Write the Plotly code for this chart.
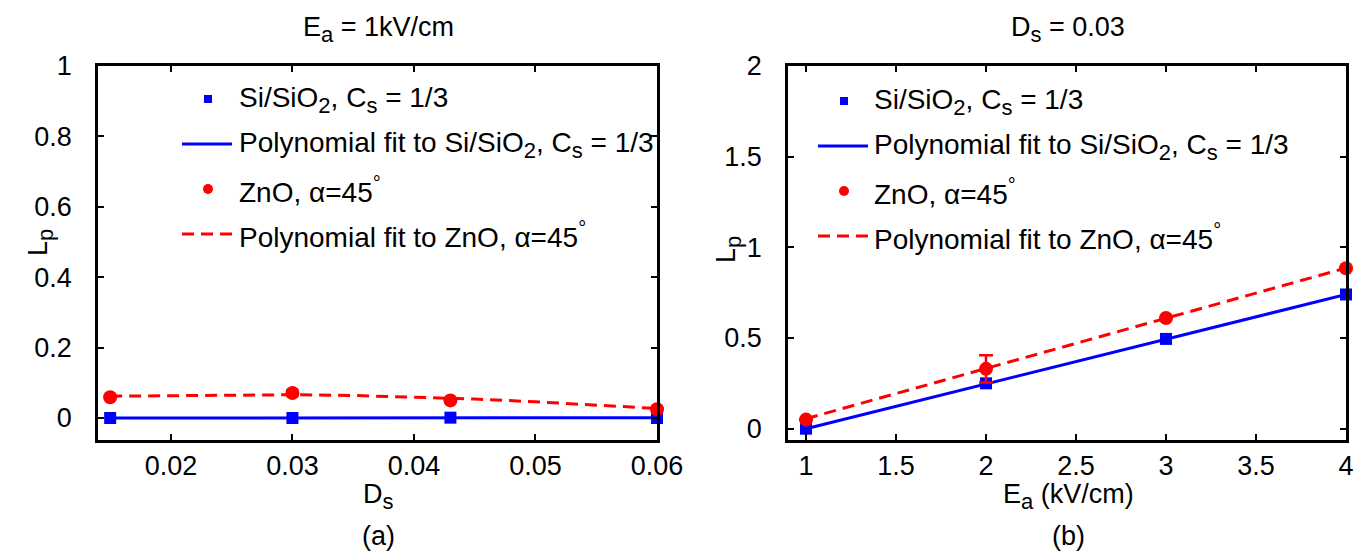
import plotly.graph_objects as go

# page geometry (the html body has an 8 px default margin)
W_PAGE, H_PAGE = 1363, 552
OFF = 8
W, H = W_PAGE - OFF, H_PAGE - OFF

# ---- Data: panel (a), Ea = 1 kV/cm ----
ds = [0.015, 0.03, 0.043, 0.06]
si_a = [0.0, 0.0, 0.001, 0.0]
zno_a = [0.059, 0.071, 0.050, 0.025]
zno_a_err = [0.0, 0.009, 0.0, 0.0]
fit_ds = [0.015, 0.02, 0.025, 0.03, 0.035, 0.04, 0.045, 0.05, 0.055, 0.06]
si_fit_a = [0.0, 0.0, 0.0, 0.0, 0.0, 0.0, 0.0, 0.001, 0.001, 0.001]
zno_fit_a = [0.062, 0.064, 0.066, 0.066, 0.064, 0.060, 0.054, 0.046, 0.037, 0.027]

# ---- Data: panel (b), Ds = 0.03 ----
ea = [1, 2, 3, 4]
si_b = [0.0, 0.25, 0.495, 0.74]
zno_b = [0.05, 0.33, 0.61, 0.885]
zno_b_err = [0.0, 0.075, 0.0, 0.0]
si_fit_b = [0.0, 0.247, 0.493, 0.74]
zno_fit_b = [0.055, 0.332, 0.609, 0.886]

a_xticks = [0.02, 0.03, 0.04, 0.05, 0.06]
a_yticks = [0, 0.2, 0.4, 0.6, 0.8, 1]
b_xticks = [1, 1.5, 2, 2.5, 3, 3.5, 4]
b_yticks = [0, 0.5, 1, 1.5, 2]

SUB = '<sub><span style="font-size:22px">{}</span></sub>'
SUP = '<sup><span style="font-size:20px">{}</span></sup>'

legend_labels = [
    "Si/SiO" + SUB.format("2") + ", C" + SUB.format("s") + " = 1/3",
    "Polynomial fit to Si/SiO" + SUB.format("2") + ", C" + SUB.format("s") + " = 1/3",
    "ZnO, α=45" + SUP.format("°"),
    "Polynomial fit to ZnO, α=45" + SUP.format("°"),
]

BLUE = "#0000FF"
RED = "#FF0000"
FONT = "Liberation Sans, Arial, sans-serif"
FS = 27
FS_LEG = 28

fig = go.Figure()


def px_x(p):
    return (p - OFF) / W


def px_y(p):
    return 1 - (p - OFF) / H


# panel (a) traces
fig.add_trace(go.Scatter(x=fit_ds, y=si_fit_a, mode="lines", line=dict(color=BLUE, width=3),
                         xaxis="x", yaxis="y", showlegend=False))
fig.add_trace(go.Scatter(x=fit_ds, y=zno_fit_a, mode="lines", line=dict(color=RED, width=3, dash="12px,7px"),
                         xaxis="x", yaxis="y", showlegend=False))
fig.add_trace(go.Scatter(x=ds, y=si_a, mode="markers", marker=dict(symbol="square", size=12, color=BLUE),
                         cliponaxis=False, xaxis="x", yaxis="y", showlegend=False))
fig.add_trace(go.Scatter(x=ds, y=zno_a, mode="markers", marker=dict(symbol="circle", size=14, color=RED),
                         error_y=dict(type="data", array=zno_a_err, color=RED, thickness=2, width=6),
                         cliponaxis=False, xaxis="x", yaxis="y", showlegend=False))

# panel (b) traces
fig.add_trace(go.Scatter(x=ea, y=si_fit_b, mode="lines", line=dict(color=BLUE, width=3),
                         xaxis="x2", yaxis="y2", showlegend=False))
fig.add_trace(go.Scatter(x=ea, y=zno_fit_b, mode="lines", line=dict(color=RED, width=3, dash="12px,7px"),
                         xaxis="x2", yaxis="y2", showlegend=False))
fig.add_trace(go.Scatter(x=ea, y=si_b, mode="markers", marker=dict(symbol="square", size=12, color=BLUE),
                         cliponaxis=False, xaxis="x2", yaxis="y2", showlegend=False))
fig.add_trace(go.Scatter(x=ea, y=zno_b, mode="markers", marker=dict(symbol="circle", size=14, color=RED),
                         error_y=dict(type="data", array=zno_b_err, color=RED, thickness=2.5, width=7),
                         cliponaxis=False, xaxis="x2", yaxis="y2", showlegend=False))

axis_common = dict(showline=True, linecolor="black", linewidth=2.5, mirror="ticks",
                   ticks="inside", ticklen=6, tickwidth=2, tickcolor="black",
                   showgrid=False, zeroline=False, automargin=False,
                   tickfont=dict(family=FONT, size=FS, color="black"))

fig.update_layout(
    width=W, height=H,
    margin=dict(l=0, r=0, t=0, b=0, autoexpand=False),
    paper_bgcolor="white", plot_bgcolor="white",
    font=dict(family=FONT, size=FS, color="black"),
    showlegend=False,
    xaxis=dict(domain=[px_x(98), px_x(657)], range=[0.014, 0.06], tickvals=a_xticks,
               ticktext=[f"{v:.2f}" for v in a_xticks], anchor="y",
               ticklabelstandoff=0, **axis_common),
    yaxis=dict(domain=[px_y(440), px_y(66)], range=[-0.0625, 1], tickvals=a_yticks,
               ticktext=["0", "0.2", "0.4", "0.6", "0.8", "1"], anchor="x",
               ticklabelstandoff=18, **axis_common),
    xaxis2=dict(domain=[px_x(788), px_x(1346)], range=[0.9, 4], tickvals=b_xticks,
                ticktext=["1", "1.5", "2", "2.5", "3", "3.5", "4"], anchor="y2",
                ticklabelstandoff=0, **axis_common),
    yaxis2=dict(domain=[px_y(440), px_y(66)], range=[-0.0625, 2], tickvals=b_yticks,
                ticktext=["0", "0.5", "1", "1.5", "2"], anchor="x2",
                ticklabelstandoff=18, **axis_common),
)


def ann(text, x, y, size=FS, **kw):
    d = dict(text=text, x=px_x(x), y=px_y(y), xref="paper", yref="paper",
             xanchor="center", yanchor="middle",
             showarrow=False, font=dict(size=size))
    d.update(kw)
    return d


annotations = [
    ann("E" + SUB.format("a") + " = 1kV/cm", 378, 30),
    ann("D" + SUB.format("s") + " = 0.03", 1068, 30),
    ann("D" + SUB.format("s"), 378, 496),
    ann("E" + SUB.format("a") + " (kV/cm)", 1068, 496),
    ann("(a)", 378, 536),
    ann("(b)", 1068, 536),
    ann("L" + SUB.format("p"), 40, 243, textangle=-90),
    ann("L" + SUB.format("p"), 728, 250, textangle=-90),
]

shapes = []
legend_sets = [
    (182, 237, [97, 142, 187, 232]),
    (818, 872, [99, 144, 189, 234]),
]
for (lx, tx, ys) in legend_sets:
    for lab, yy in zip(legend_labels, ys):
        annotations.append(ann(lab, tx, yy + 3, size=FS_LEG, xanchor="left", yanchor="middle"))
    mx = lx + 26
    shapes.append(dict(type="rect", xref="paper", yref="paper", xsizemode="pixel", ysizemode="pixel",
                       xanchor=px_x(mx), yanchor=px_y(ys[0] + 2), x0=-4, x1=4, y0=-4, y1=4,
                       fillcolor=BLUE, line=dict(width=0)))
    shapes.append(dict(type="line", xref="paper", yref="paper",
                       x0=px_x(lx), x1=px_x(lx + 50), y0=px_y(ys[1] + 2), y1=px_y(ys[1] + 2),
                       line=dict(color=BLUE, width=3)))
    shapes.append(dict(type="circle", xref="paper", yref="paper", xsizemode="pixel", ysizemode="pixel",
                       xanchor=px_x(mx), yanchor=px_y(ys[2] + 2), x0=-5, x1=5, y0=-5, y1=5,
                       fillcolor=RED, line=dict(width=0)))
    shapes.append(dict(type="line", xref="paper", yref="paper",
                       x0=px_x(lx), x1=px_x(lx + 50), y0=px_y(ys[3] + 2), y1=px_y(ys[3] + 2),
                       line=dict(color=RED, width=3, dash="12px,7px")))

fig.update_layout(annotations=annotations, shapes=shapes)

fig.write_html("out.html")
